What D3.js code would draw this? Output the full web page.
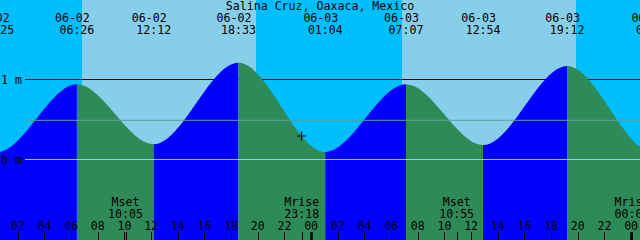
<!DOCTYPE html>
<html>

<head>
  <meta charset="UTF-8">
  <title>Salina Cruz tides</title>
  <style>
    body { margin: 0; background: #00bfff; }
    svg { display: block; }
    text { font-family: 'DejaVu Sans Mono', monospace; font-size: 11.6px; fill: black; }
  </style>
</head>

<body>
  <svg width="640" height="240"></svg>

  <script src="https://cdn.jsdelivr.net/npm/d3@7"></script>
  <script>
    // station
    const title = "Salina Cruz, Oaxaca, Mexico";

    // high / low tides (local time) and levels in metres
    // first and last entries lie just off the chart, they only shape the ends of the curve
    const tideTimes = ["06-01 17:55", "06-02 00:25", "06-02 06:26", "06-02 12:12", "06-02 18:33", "06-03 01:04",
      "06-03 07:07", "06-03 12:54", "06-03 19:12", "06-04 01:40", "06-04 07:50"];
    const tideLevels = [1.22, 0.09, 0.94, 0.19, 1.21, 0.095, 0.94, 0.18, 1.17, 0.09, 0.95];

    // sunrise / sunset
    const sunTimes = ["06-02 06:50", "06-02 19:52", "06-03 06:50", "06-03 19:52"];

    // moon events
    const moonNames = ["Mset", "Mrise", "Mset", "Mrise"];
    const moonTimes = ["06-02 10:05", "06-02 23:18", "06-03 10:55", "06-04 00:04"];

    // depth lines
    const depthMarks = [0, 1];
    const depthLabels = ["0 m", "1 m"];
    const meanLevel = 0.49;

    // "now" marker
    const nowTime = "06-02 23:15";
    const nowLevel = 0.30;

    const width = 640, height = 240;
    const parse = d3.timeParse("%m-%d %H:%M");
    const fmtDate = d3.timeFormat("%m-%d");
    const fmtTime = d3.timeFormat("%H:%M");

    let svg = d3.select("svg");

    let x = d3.scaleTime()
      .domain([parse("06-02 00:40"), parse("06-04 00:40")])
      .range([0, width]);
    let y = d3.scaleLinear().domain([0, 1]).range([159.5, 79.5]);

    let tides = tideTimes.map((t, i) => ({ t: parse(t), v: tideLevels[i] }));

    // sky: night then day bands
    svg.append("rect").attr("width", width).attr("height", height).attr("fill", "#00bfff");
    for (let i = 0; i < sunTimes.length; i += 2) {
      let x0 = x(parse(sunTimes[i])), x1 = x(parse(sunTimes[i + 1]));
      svg.append("rect")
        .attr("x", x0).attr("y", 0)
        .attr("width", x1 - x0).attr("height", height)
        .attr("fill", "#87ceeb")
        .attr("shape-rendering", "crispEdges");
    }

    // 1 m line sits behind the water
    svg.append("line")
      .attr("x1", 25).attr("x2", width)
      .attr("y1", y(1)).attr("y2", y(1))
      .attr("stroke", "black");

    // water, blue while rising, green while falling
    let area = d3.area()
      .x(d => x(d.t))
      .y0(height)
      .y1(d => y(d.v))
      .curve(d3.curveMonotoneX);

    let defs = svg.append("defs");
    for (let i = 0; i < tides.length - 1; i++) {
      let a = tides[i], b = tides[i + 1];
      defs.append("clipPath").attr("id", "seg" + i)
        .append("rect")
        .attr("x", x(a.t)).attr("y", 0)
        .attr("width", x(b.t) - x(a.t)).attr("height", height);
      svg.append("path")
        .datum(tides)
        .attr("clip-path", "url(#seg" + i + ")")
        .attr("fill", b.v > a.v ? "#0000ff" : "#2e8b57")
        .attr("d", area);
    }

    // mean level and datum lines over the water
    svg.append("line")
      .attr("x1", 25).attr("x2", width)
      .attr("y1", y(meanLevel)).attr("y2", y(meanLevel))
      .attr("stroke", "#5f9ea0");
    svg.append("line")
      .attr("x1", 25).attr("x2", width)
      .attr("y1", y(0)).attr("y2", y(0))
      .attr("stroke", "#87cefa");

    svg.selectAll(".depth")
      .data(depthMarks)
      .enter()
      .append("text")
      .attr("x", 1)
      .attr("y", d => y(d) + 4)
      .text((d, i) => depthLabels[i]);

    // now marker
    let nx = Math.round(x(parse(nowTime))) + 0.5, ny = Math.round(y(nowLevel));
    svg.append("path")
      .attr("d", `M${nx - 4.5},${ny} H${nx + 4.5} M${nx},${ny - 4.5} V${ny + 4.5}`)
      .attr("stroke", "black")
      .attr("stroke-width", 1.2);

    // title and tide labels at the top
    svg.append("text").attr("x", width / 2).attr("y", 9.5)
      .attr("text-anchor", "middle").text(title);

    let topLabels = svg.append("g").attr("text-anchor", "middle");
    topLabels.selectAll(".tdate")
      .data(tides)
      .enter()
      .append("text")
      .attr("x", d => x(d.t) - 4.5)
      .attr("y", 21.5)
      .text(d => fmtDate(d.t));
    topLabels.selectAll(".ttime")
      .data(tides)
      .enter()
      .append("text")
      .attr("x", d => x(d.t))
      .attr("y", 33.5)
      .text(d => fmtTime(d.t));

    // moon labels and ticks
    let moon = moonTimes.map((t, i) => ({ t: parse(t), name: moonNames[i] }));
    let bottom = svg.append("g").attr("text-anchor", "middle");
    bottom.selectAll(".mname")
      .data(moon)
      .enter()
      .append("text")
      .attr("x", d => x(d.t))
      .attr("y", 205.5)
      .text(d => d.name);
    bottom.selectAll(".mtime")
      .data(moon)
      .enter()
      .append("text")
      .attr("x", d => x(d.t))
      .attr("y", 217.5)
      .text(d => fmtTime(d.t));
    bottom.selectAll(".mtick")
      .data(moon)
      .enter()
      .append("line")
      .attr("x1", d => Math.round(x(d.t)) + 0.5)
      .attr("x2", d => Math.round(x(d.t)) + 0.5)
      .attr("y1", 232).attr("y2", height)
      .attr("stroke", "black");

    // hour axis every 2 hours, midnight thicker
    let hours = x.ticks(d3.timeHour.every(2));
    bottom.selectAll(".hlabel")
      .data(hours)
      .enter()
      .append("text")
      .attr("x", d => x(d))
      .attr("y", 229.5)
      .text(d => d3.timeFormat("%H")(d));
    bottom.selectAll(".htick")
      .data(hours)
      .enter()
      .append("line")
      .attr("x1", d => Math.round(x(d)) + 0.5)
      .attr("x2", d => Math.round(x(d)) + 0.5)
      .attr("y1", 232).attr("y2", height)
      .attr("stroke", "black")
      .attr("stroke-width", d => d.getHours() == 0 ? 2.5 : 1);
  </script>
</body>

</html>
